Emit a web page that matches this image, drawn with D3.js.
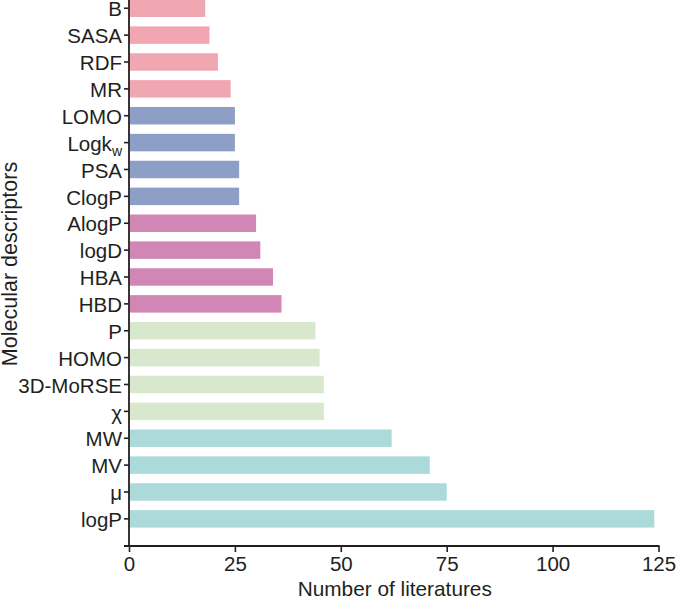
<!DOCTYPE html>
<html>
<head>
<meta charset="utf-8">
<script src="https://cdn.jsdelivr.net/npm/d3@7"></script>
<style>
  body { margin: 0; background: #fff; }
  text { font-family: "Liberation Sans", Arial, sans-serif; fill: #231f20; }
</style>
</head>
<body>
<svg id="chart" width="677" height="599"></svg>
<script>
const descriptors = ["B", "SASA", "RDF", "MR", "LOMO", "Logkw", "PSA", "ClogP",
  "AlogP", "logD", "HBA", "HBD", "P", "HOMO", "3D-MoRSE", "χ", "MW", "MV", "μ", "logP"];
const literatures = [18, 19, 21, 24, 25, 25, 26, 26, 30, 31, 34, 36, 44, 45, 46, 46, 62, 71, 75, 124];
const groups = [0, 0, 0, 0, 1, 1, 1, 1, 2, 2, 2, 2, 3, 3, 3, 3, 4, 4, 4, 4];
const groupColors = ["#f0a7b1", "#8d9fc6", "#d186b6", "#d8e8cc", "#acdada"];
const xTicks = [0, 25, 50, 75, 100, 125];

const svg = d3.select("#chart");
const ink = "#231f20";
const x0 = 129, x1 = 658.5, axisY = 546;

const x = d3.scaleLinear().domain([0, 125]).range([x0, x1]);
const y = d3.scaleBand().domain(descriptors).range([-5.2, 532.3]).paddingInner(0.35).paddingOuter(0.175);

const data = descriptors.map((d, i) => ({ name: d, value: literatures[i], group: groups[i] }));

// bars
svg.append("g")
  .selectAll("rect")
  .data(data)
  .enter()
  .append("rect")
  .attr("x", x(0) + 1)
  .attr("y", d => y(d.name))
  .attr("width", d => x(d.value) - x(0) - 1)
  .attr("height", y.bandwidth())
  .attr("fill", d => groupColors[d.group]);

// y axis
const yAxis = svg.append("g")
  .attr("transform", `translate(${x0},0)`)
  .call(d3.axisLeft(y).tickSize(5).tickPadding(2));
yAxis.select(".domain").remove();
yAxis.selectAll("line").attr("stroke", ink).attr("stroke-width", 1.6);
yAxis.selectAll("text")
  .attr("font-size", 20.5)
  .attr("dy", "0.4em")
  .attr("font-family", "Liberation Sans, Arial, sans-serif")
  .attr("fill", ink)
  .each(function (d) {
    if (d === "Logkw") {
      const t = d3.select(this).text("Logk");
      t.append("tspan").text("w").attr("font-size", 14).attr("dy", 5);
    }
  });
svg.append("line")
  .attr("x1", x0).attr("x2", x0)
  .attr("y1", 0).attr("y2", axisY)
  .attr("stroke", ink).attr("stroke-width", 1.8);

// x axis
const xAxis = svg.append("g")
  .attr("transform", `translate(0,${axisY})`)
  .call(d3.axisBottom(x).tickValues(xTicks).tickSize(6).tickPadding(4));
xAxis.select(".domain").remove();
xAxis.selectAll("line").attr("stroke", ink).attr("stroke-width", 1.6);
xAxis.selectAll("text")
  .attr("font-size", 20.5)
  .attr("font-family", "Liberation Sans, Arial, sans-serif")
  .attr("fill", ink);
svg.append("line")
  .attr("x1", x0 - 5).attr("x2", x1 + 1)
  .attr("y1", axisY).attr("y2", axisY)
  .attr("stroke", ink).attr("stroke-width", 1.8);

// titles
svg.append("text")
  .attr("x", (x0 + x1) / 2 + 1)
  .attr("y", 596)
  .attr("text-anchor", "middle")
  .attr("font-size", 20.8)
  .text("Number of literatures");

svg.append("text")
  .attr("transform", `translate(17,264) rotate(-90)`)
  .attr("text-anchor", "middle")
  .attr("font-size", 21.5)
  .text("Molecular descriptors");
</script>
</body>
</html>
